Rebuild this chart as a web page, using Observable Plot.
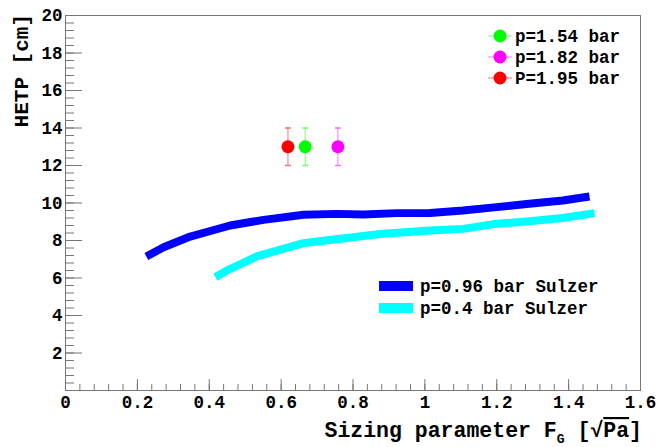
<!DOCTYPE html>
<html><head><meta charset="utf-8">
<script src="https://cdn.jsdelivr.net/npm/d3@7"></script>
<script src="https://cdn.jsdelivr.net/npm/@observablehq/plot@0.6"></script>
<style>
body{margin:0;background:#fff}
#chart{width:661px;height:447px}
</style>
</head><body><div id="chart"></div>
<script>
// Sulzer curves
const sulzer096X = [0.225, 0.273, 0.347, 0.458, 0.551, 0.662, 0.755, 0.829, 0.921, 1.014, 1.106, 1.2, 1.29, 1.384, 1.458];
const sulzer096Y = [7.15, 7.64, 8.21, 8.8, 9.1, 9.37, 9.42, 9.39, 9.46, 9.47, 9.6, 9.78, 9.96, 10.13, 10.35];
const sulzer04X = [0.417, 0.449, 0.532, 0.662, 0.736, 0.875, 1.014, 1.106, 1.2, 1.29, 1.384, 1.472];
const sulzer04Y = [6.04, 6.4, 7.15, 7.86, 8.03, 8.35, 8.53, 8.62, 8.89, 9.03, 9.2, 9.46];
const curveNames = ["p=0.96 bar Sulzer", "p=0.4 bar Sulzer"];
const curveColors = ["#0000ff", "#00ffff"];

// Measured points
const pointNames = ["p=1.54 bar", "p=1.82 bar", "P=1.95 bar"];
const pointX = [0.667, 0.758, 0.619];
const pointY = [13, 13, 13];
const pointErr = [1, 1, 1];
const pointColors = ["#00ff00", "#ff00ff", "#ff0000"];

// Axis ticks
const xTicks = [0, 0.2, 0.4, 0.6, 0.8, 1, 1.2, 1.4, 1.6];
const xTickLabels = ["0", "0.2", "0.4", "0.6", "0.8", "1", "1.2", "1.4", "1.6"];
const yTicks = [2, 4, 6, 8, 10, 12, 14, 16, 18, 20];
const yTickLabels = ["2", "4", "6", "8", "10", "12", "14", "16", "18", "20"];
const xMinor = d3.range(0, 1.6001, 0.04);
const yMinor = d3.range(0, 20.001, 0.4);

const curves = [
  ...sulzer096X.map((x, i) => ({x, y: sulzer096Y[i], s: curveNames[0]})),
  ...sulzer04X.map((x, i) => ({x, y: sulzer04Y[i], s: curveNames[1]}))
];
const points = pointX.map((x, i) => ({x, y: pointY[i], e: pointErr[i], c: pointColors[i], n: pointNames[i]}));

const cap = {draw(ctx, size) { const w = Math.sqrt(size / Math.PI); ctx.moveTo(-w, 0); ctx.lineTo(w, 0); }};
const FONT = "Liberation Mono, Courier New, monospace";
const axisColor = "#777";

const svg = Plot.plot({
  width: 661, height: 447,
  marginLeft: 65, marginRight: 21, marginTop: 15, marginBottom: 57,
  x: {domain: [0, 1.6]},
  y: {domain: [0, 20]},
  color: {domain: curveNames, range: curveColors},
  style: {fontFamily: FONT, fontWeight: "bold", fontSize: "17.5px", color: "black", background: "white"},
  marks: [
    Plot.frame({stroke: axisColor}),
    Plot.axisX(xMinor, {tickSize: -6, stroke: axisColor, tickFormat: () => "", label: null}),
    Plot.axisX(xTicks, {tickSize: -11, stroke: axisColor, tickFormat: () => "", label: null}),
    Plot.axisX(xTicks, {tickSize: 0, tickPadding: 5, tickFormat: (d, i) => xTickLabels[i], label: null, fill: "black"}),
    Plot.axisY(yMinor, {tickSize: -9, stroke: axisColor, tickFormat: () => "", label: null}),
    Plot.axisY(yTicks, {tickSize: -17, stroke: axisColor, tickFormat: () => "", label: null}),
    Plot.axisY(yTicks, {tickSize: 0, tickPadding: 3, tickFormat: (d, i) => yTickLabels[i], label: null, fill: "black"}),
    Plot.line(curves, {x: "x", y: "y", z: "s", stroke: "s", strokeWidth: 8, strokeLinecap: "butt", strokeLinejoin: "round"}),
    Plot.ruleX(points, {x: "x", y1: d => d.y - d.e, y2: d => d.y + d.e, stroke: "c", strokeOpacity: 0.55}),
    Plot.dot(points, {x: "x", y: d => d.y + d.e, symbol: cap, r: 3, stroke: "c", strokeOpacity: 0.55, fill: "none"}),
    Plot.dot(points, {x: "x", y: d => d.y - d.e, symbol: cap, r: 3, stroke: "c", strokeOpacity: 0.55, fill: "none"}),
    Plot.dot(points, {x: "x", y: "y", r: 6.5, fill: "c", stroke: null})
  ]
});

const s = d3.select(svg);
// Axis titles
const xt = s.append("text").attr("x", 642).attr("y", 437).attr("text-anchor", "end")
  .attr("font-family", FONT).attr("font-weight", "bold").attr("font-size", 21.5).attr("fill", "black");
xt.append("tspan").text("Sizing parameter F");
xt.append("tspan").attr("dy", 6).attr("font-size", 13).text("G");
xt.append("tspan").attr("dy", -6).text(" [\u221A");
xt.append("tspan").attr("text-decoration", "overline").text("Pa");
xt.append("tspan").text("]");

s.append("text").attr("transform", "translate(28,14) rotate(-90)").attr("text-anchor", "end")
  .attr("font-family", FONT).attr("font-weight", "bold").attr("font-size", 21).attr("fill", "black")
  .text("HETP [cm]");

// Legend: measured points
const lg1 = s.append("g").attr("font-family", FONT).attr("font-weight", "bold").attr("font-size", 17.5).attr("text-anchor", "start");
const rows1 = [36, 57, 78];
points.forEach((p, i) => {
  const y = rows1[i];
  lg1.append("line").attr("x1", 488).attr("x2", 512).attr("y1", y).attr("y2", y).attr("stroke", p.c).attr("stroke-opacity", 0.55);
  lg1.append("circle").attr("cx", 500).attr("cy", y).attr("r", 6.5).attr("fill", p.c);
  lg1.append("text").attr("x", 515).attr("y", y).attr("dy", "0.32em").attr("text-anchor", "start").attr("fill", "black").text(p.n);
});
// Legend: Sulzer curves
const lg2 = s.append("g").attr("font-family", FONT).attr("font-weight", "bold").attr("font-size", 17.5).attr("text-anchor", "start");
const rows2 = [286, 308];
curveNames.forEach((n, i) => {
  const y = rows2[i];
  lg2.append("rect").attr("x", 379).attr("y", y - 5).attr("width", 34).attr("height", 10).attr("fill", curveColors[i]);
  lg2.append("text").attr("x", 420).attr("y", y).attr("dy", "0.32em").attr("text-anchor", "start").attr("fill", "black").text(n);
});

document.getElementById("chart").appendChild(svg);
</script>
</body></html>
